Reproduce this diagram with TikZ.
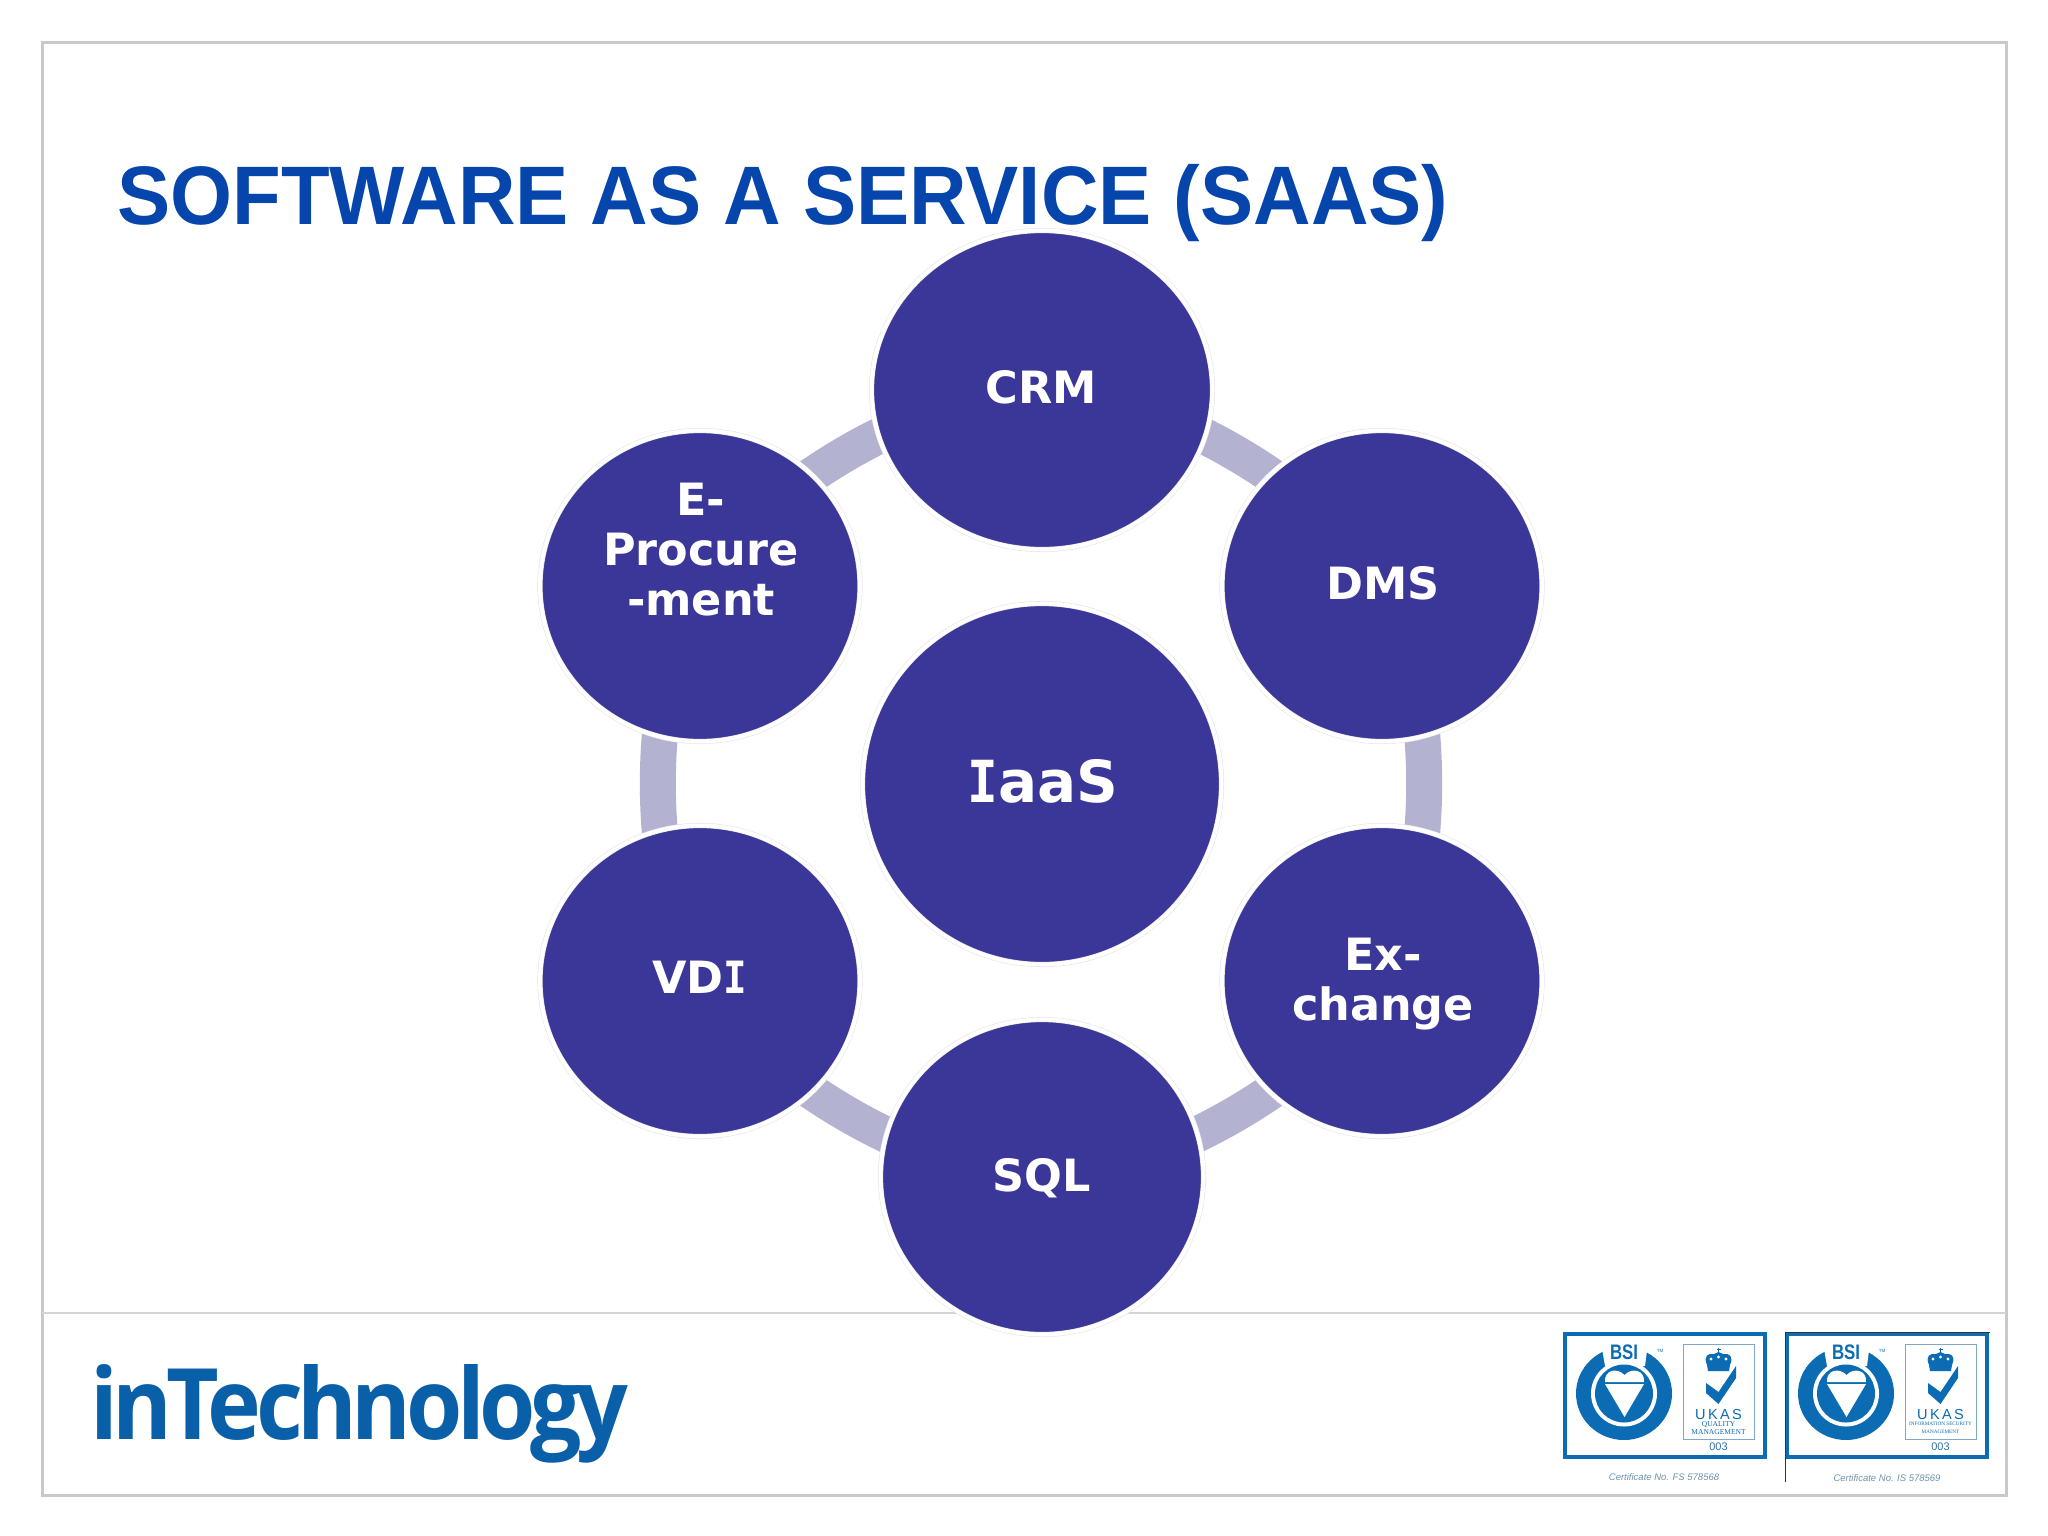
\documentclass[tikz,border=0pt]{standalone}
\usepackage{graphicx}
\usepackage{fontspec}
\setmainfont{Liberation Sans}
\newfontfamily\bubblefont{DejaVu Sans}
\newfontfamily\slabfont{DejaVu Sans Mono}
\newfontfamily\logofont[LetterSpace=-6]{Open Sans}
\newfontfamily\ukasfont{Liberation Serif}
\usetikzlibrary{shapes.geometric, backgrounds}
\definecolor{framecol}{HTML}{C9C9CB}
\definecolor{titlecol}{HTML}{0545AC}
\definecolor{bubblecol}{HTML}{3B3799}
\definecolor{ringcol}{HTML}{B3B2D1}
\definecolor{logocol}{HTML}{0A60A8}
\definecolor{badgecol}{HTML}{0B6CB3}
\definecolor{ukascol}{HTML}{7FA8C9}
\definecolor{certcol}{HTML}{6F92AB}
\newcommand{\slabI}{\scalebox{.88}[1]{\slabfont\bfseries I}}
\tikzset{
	bubble/.style={ellipse,fill=bubblecol,draw=black!10,double=white,double distance=4pt,line width=.6pt,inner sep=0pt},
	bubbletext/.style={inner sep=0pt,text=white,align=center,font=\bubblefont\bfseries\fontsize{44.5}{50}\selectfont},
	ringarc/.style={draw=ringcol,line width=36pt,bend left=30,looseness=.73},
	badgetext/.style={inner sep=0pt,text=badgecol,align=center},
}
% one certificate box; #1 shift, #2 name, #3 #4 small lines, #5 size of them
\newcommand{\certbadge}[5]{
	\begin{scope}[shift={(#1,0)}]
		\draw[badgecol,line width=3.5pt,fill=white] (1565,1334)rectangle(1765,1457);
		\fill[badgecol] (1624,1393.5)ellipse[x radius=48,y radius=46.5]; %ring
		\fill[white] (1601,1343)--(1648,1343)--(1645,1366)--(1605,1366)--cycle;
		\fill[white] (1624,1393.5)circle[radius=33];
		\fill[badgecol] (1624,1393.5)circle[radius=29];
		\fill[white] (1624.5,1375)..controls (1617,1367) and (1604,1370) .. (1605,1382)--(1644,1382)..controls (1645,1370) and (1632,1367) .. (1624.5,1375)--cycle; %heart
		\fill[white] (1605,1384)--(1644,1384)--(1624.5,1417)--cycle;
		\node[badgetext,font=\bfseries\fontsize{21}{21}\selectfont] (#2bsi) at (1624,1352) {\scalebox{.8}[1]{BSI}};
		\node[badgetext,font=\fontsize{4.5}{5}\selectfont] (#2tm) at (1660,1351) {TM};
		\draw[ukascol,line width=.9pt] (1683.5,1344)rectangle(1754,1439);
		\fill[badgecol] (1707,1365)..controls (1703,1356) and (1708,1353) .. (1714,1354)--(1718.5,1352)--(1723,1354)..controls (1729,1353) and (1734,1356) .. (1730,1365)--(1729,1371)--(1708,1371)--cycle; %crown
		\draw[badgecol,line width=1pt] (1718.5,1352)--(1718.5,1348) (1716.5,1349.5)--(1720.5,1349.5);
		\fill[white] (1711,1359)circle[radius=1.6] (1718.5,1357)circle[radius=1.6] (1726,1359)circle[radius=1.6];
		\fill[badgecol] (1706,1383)--(1718.5,1392)--(1736,1366)--(1736,1378)--(1718.5,1404)--(1706,1393)--cycle; %tick
		\node[badgetext,font=\fontsize{14.5}{15}\selectfont] (#2ukas) at (1718.5,1414) {U\,K\,A\,S};
		\node[badgetext,font=\ukasfont\fontsize{#5}{8}\selectfont] (#2small) at (1718.5,1428) {#3\\#4};
		\node[inner sep=0pt,text=badgecol!70!gray,font=\fontsize{11}{12}\selectfont] (#2num) at (1718.5,1447) {003};
	\end{scope}
}
\begin{document}
\begin{tikzpicture}[x=1pt,y=-1pt]
	\useasboundingbox (0,0)rectangle(2048,1536);
	\draw[framecol,line width=3pt] (42,43)rectangle(2006,1495); %frame
	\draw[framecol!80,line width=2.5pt] (42,1313)--(2006,1313);
	\node[anchor=base west,inner sep=0pt,text=titlecol,font=\bfseries\fontsize{83}{90}\selectfont] (title) at (117,224) {\scalebox{.96}[1]{SOFTWARE AS A SERVICE (SAAS)}};
	\node[bubble,minimum width=341pt,minimum height=319pt] (crm) at (1042,390) {};
	\node[bubble,minimum width=320pt,minimum height=311pt] (dms) at (1382,586) {};
	\node[bubble,minimum width=320pt,minimum height=311pt] (exchange) at (1382,981) {};
	\node[bubble,minimum width=323pt,minimum height=315pt] (sql) at (1042,1177) {};
	\node[bubble,minimum width=320pt,minimum height=311pt] (vdi) at (700,981) {};
	\node[bubble,minimum width=320pt,minimum height=311pt] (eproc) at (700,586) {};
	\node[bubble,minimum width=359pt,minimum height=361pt] (iaas) at (1042,784) {};
	\node[bubbletext] (crmtext) at (1041,387) {CRM};
	\node[bubbletext] (dmstext) at (1383,583) {DMS};
	\node[bubbletext] (exchangetext) at (1383,984) {Ex-\\change};
	\node[bubbletext] (sqltext) at (1042,1178) {SQL};
	\node[bubbletext] (vditext) at (700,977) {VD\slabI};
	\node[bubbletext] (eproctext) at (701,550) {E-\\Procure\\-ment};
	\node[bubbletext,font=\bubblefont\bfseries\fontsize{58}{66}\selectfont] (iaastext) at (1043,781) {\slabI aaS};
	\begin{scope}[on background layer]
		\draw[ringarc] (eproc.center) to (crm.center);
		\draw[ringarc] (crm.center) to (dms.center);
		\draw[ringarc] (dms.center) to (exchange.center);
		\draw[ringarc] (exchange.center) to (sql.center);
		\draw[ringarc] (sql.center) to (vdi.center);
		\draw[ringarc] (vdi.center) to (eproc.center);
	\end{scope}
	\node[anchor=base west,inner sep=0pt,text=logocol,font=\logofont\bfseries\fontsize{96}{100}\selectfont] (logo) at (90,1439) {\resizebox{538pt}{75pt}{inTechnology}};
	\certbadge{0}{a}{QUALITY}{MANAGEMENT}{7.5}
	\certbadge{222}{b}{INFORMATION SECURITY}{MANAGEMENT}{5.2}
	\draw[black!80,line width=1pt] (1785,1482)--(1785,1332)--(1990,1332);
	\node[inner sep=0pt,text=certcol,font=\itshape\fontsize{9.5}{12}\selectfont] (certa) at (1664,1477) {Certificate No. FS 578568};
	\node[inner sep=0pt,text=certcol,font=\itshape\fontsize{9.5}{12}\selectfont] (certb) at (1887,1478) {Certificate No. IS 578569};
\end{tikzpicture}
\end{document}
